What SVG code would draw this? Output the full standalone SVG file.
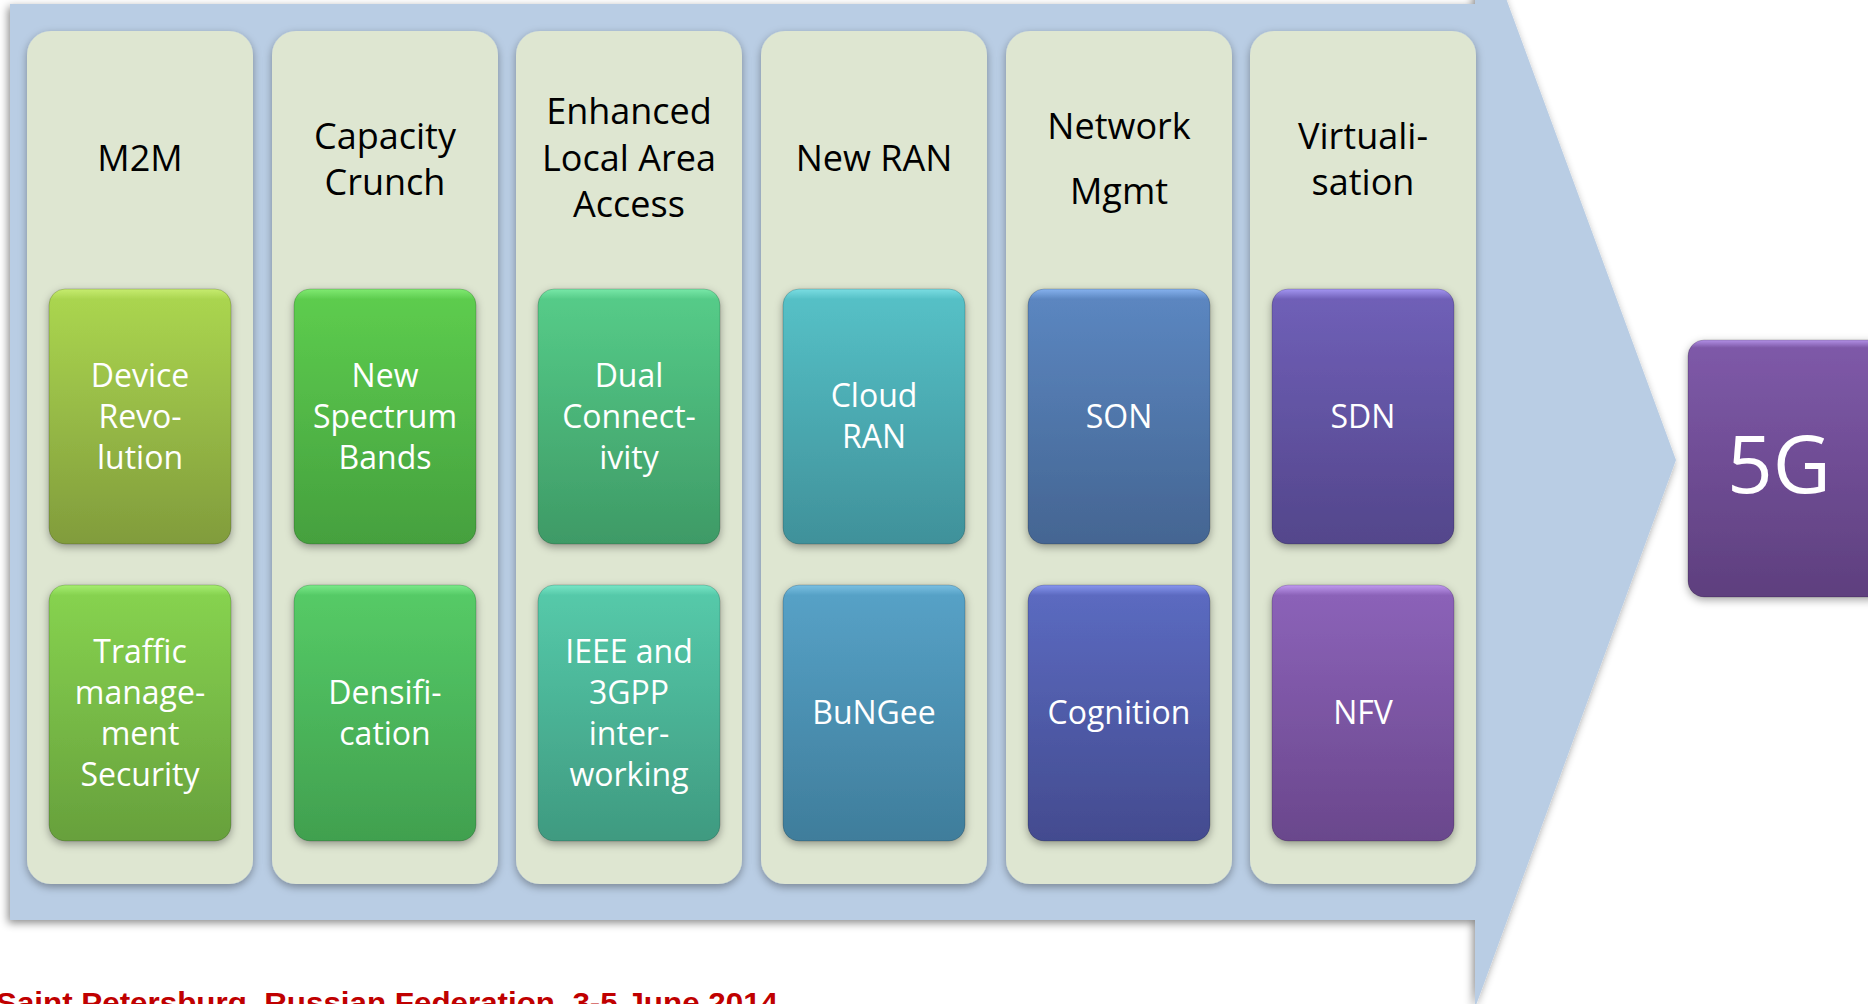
<svg xmlns="http://www.w3.org/2000/svg" width="1868" height="1004" viewBox="0 0 1868 1004">
<defs>
<filter id="sh" x="-10%" y="-10%" width="120%" height="120%">
<feDropShadow dx="0" dy="3" stdDeviation="4" flood-color="#000" flood-opacity="0.35"/>
</filter>
<filter id="ash" x="-5%" y="-5%" width="110%" height="110%">
<feDropShadow dx="-2" dy="3" stdDeviation="4" flood-color="#000" flood-opacity="0.45"/>
</filter>
<linearGradient id="g1a" x1="0" y1="0" x2="0" y2="1"><stop offset="0" stop-color="#c6ec70"/><stop offset="0.04" stop-color="#aad54f"/><stop offset="1" stop-color="#819c3c"/></linearGradient>
<linearGradient id="g1b" x1="0" y1="0" x2="0" y2="1"><stop offset="0" stop-color="#a6ee70"/><stop offset="0.04" stop-color="#86d24f"/><stop offset="1" stop-color="#67a03c"/></linearGradient>
<linearGradient id="g2a" x1="0" y1="0" x2="0" y2="1"><stop offset="0" stop-color="#80ea72"/><stop offset="0.04" stop-color="#5dcc4e"/><stop offset="1" stop-color="#45a03e"/></linearGradient>
<linearGradient id="g2b" x1="0" y1="0" x2="0" y2="1"><stop offset="0" stop-color="#7aea8a"/><stop offset="0.04" stop-color="#55ca66"/><stop offset="1" stop-color="#41a04f"/></linearGradient>
<linearGradient id="g3a" x1="0" y1="0" x2="0" y2="1"><stop offset="0" stop-color="#78e8a8"/><stop offset="0.04" stop-color="#55cb88"/><stop offset="1" stop-color="#3e9a66"/></linearGradient>
<linearGradient id="g3b" x1="0" y1="0" x2="0" y2="1"><stop offset="0" stop-color="#78e6c6"/><stop offset="0.04" stop-color="#55c9a9"/><stop offset="1" stop-color="#3f9a80"/></linearGradient>
<linearGradient id="g4a" x1="0" y1="0" x2="0" y2="1"><stop offset="0" stop-color="#7adde2"/><stop offset="0.04" stop-color="#55c0c6"/><stop offset="1" stop-color="#40919a"/></linearGradient>
<linearGradient id="g4b" x1="0" y1="0" x2="0" y2="1"><stop offset="0" stop-color="#7ac0e2"/><stop offset="0.04" stop-color="#56a1c6"/><stop offset="1" stop-color="#3f7d9b"/></linearGradient>
<linearGradient id="g5a" x1="0" y1="0" x2="0" y2="1"><stop offset="0" stop-color="#86b2ee"/><stop offset="0.04" stop-color="#5b86c0"/><stop offset="1" stop-color="#446592"/></linearGradient>
<linearGradient id="g5b" x1="0" y1="0" x2="0" y2="1"><stop offset="0" stop-color="#8896ee"/><stop offset="0.04" stop-color="#5b6ac0"/><stop offset="1" stop-color="#434b8f"/></linearGradient>
<linearGradient id="g6a" x1="0" y1="0" x2="0" y2="1"><stop offset="0" stop-color="#a496f2"/><stop offset="0.04" stop-color="#6f5fb7"/><stop offset="1" stop-color="#53468b"/></linearGradient>
<linearGradient id="g6b" x1="0" y1="0" x2="0" y2="1"><stop offset="0" stop-color="#c09af0"/><stop offset="0.04" stop-color="#8b62b8"/><stop offset="1" stop-color="#6a478c"/></linearGradient>
<linearGradient id="g5g" x1="0" y1="0" x2="0" y2="1"><stop offset="0" stop-color="#b290e6"/><stop offset="0.03" stop-color="#7e59a8"/><stop offset="1" stop-color="#5e3f7e"/></linearGradient>
</defs>
<style>
.col{fill:#dee6d1;filter:url(#sh)}
.box{filter:url(#sh);stroke:#000;stroke-opacity:0.18;stroke-width:1}
.hd{font-family:"Open Sans","Noto Sans",sans-serif;font-size:36px;fill:#000;text-anchor:middle}
.bt{font-family:"Open Sans","Noto Sans",sans-serif;font-size:32px;fill:#fff;text-anchor:middle}
.big{font-family:"Open Sans","Noto Sans",sans-serif;font-size:80px;fill:#fff;text-anchor:middle}
.foot{font-family:"Liberation Sans",Arial,sans-serif;font-weight:bold;font-size:30px;fill:#c00000}
</style>
<g id="arrow">
<path d="M10,4 H1475 V-86 L1676,460 L1475,1008 V920 H10 Z" fill="#b9cde4" filter="url(#ash)"/>
</g>
<g id="connectors"></g>
<g id="col-m2m">
<rect class="col" x="27" y="31" width="226" height="853" rx="24"/>
<text class="hd" x="140" y="171">M2M</text>
</g>
<g id="col-capacity">
<rect class="col" x="272" y="31" width="226" height="853" rx="24"/>
<text class="hd" x="385" y="149">Capacity</text>
<text class="hd" x="385" y="195">Crunch</text>
</g>
<g id="col-enhanced">
<rect class="col" x="516" y="31" width="226" height="853" rx="24"/>
<text class="hd" x="629" y="124">Enhanced</text>
<text class="hd" x="629" y="171">Local Area</text>
<text class="hd" x="629" y="217">Access</text>
</g>
<g id="col-newran">
<rect class="col" x="761" y="31" width="226" height="853" rx="24"/>
<text class="hd" x="874" y="171">New RAN</text>
</g>
<g id="col-netmgmt">
<rect class="col" x="1006" y="31" width="226" height="853" rx="24"/>
<text class="hd" x="1119" y="139">Network</text>
<text class="hd" x="1119" y="204">Mgmt</text>
</g>
<g id="col-virt">
<rect class="col" x="1250" y="31" width="226" height="853" rx="24"/>
<text class="hd" x="1363" y="149">Virtuali-</text>
<text class="hd" x="1363" y="195">sation</text>
</g>
<g id="box-device">
<rect class="box" x="49" y="289" width="182" height="255" rx="16" fill="url(#g1a)"/>
<text class="bt" x="140" y="387">Device</text>
<text class="bt" x="140" y="428">Revo-</text>
<text class="bt" x="140" y="469">lution</text>
</g>
<g id="box-traffic">
<rect class="box" x="49" y="585" width="182" height="256" rx="16" fill="url(#g1b)"/>
<text class="bt" x="140" y="663">Traffic</text>
<text class="bt" x="140" y="704">manage-</text>
<text class="bt" x="140" y="745">ment</text>
<text class="bt" x="140" y="786">Security</text>
</g>
<g id="box-spectrum">
<rect class="box" x="294" y="289" width="182" height="255" rx="16" fill="url(#g2a)"/>
<text class="bt" x="385" y="387">New</text>
<text class="bt" x="385" y="428">Spectrum</text>
<text class="bt" x="385" y="469">Bands</text>
</g>
<g id="box-densification">
<rect class="box" x="294" y="585" width="182" height="256" rx="16" fill="url(#g2b)"/>
<text class="bt" x="385" y="704">Densifi-</text>
<text class="bt" x="385" y="745">cation</text>
</g>
<g id="box-dual">
<rect class="box" x="538" y="289" width="182" height="255" rx="16" fill="url(#g3a)"/>
<text class="bt" x="629" y="387">Dual</text>
<text class="bt" x="629" y="428">Connect-</text>
<text class="bt" x="629" y="469">ivity</text>
</g>
<g id="box-ieee">
<rect class="box" x="538" y="585" width="182" height="256" rx="16" fill="url(#g3b)"/>
<text class="bt" x="629" y="663">IEEE and</text>
<text class="bt" x="629" y="704">3GPP</text>
<text class="bt" x="629" y="745">inter-</text>
<text class="bt" x="629" y="786">working</text>
</g>
<g id="box-cloudran">
<rect class="box" x="783" y="289" width="182" height="255" rx="16" fill="url(#g4a)"/>
<text class="bt" x="874" y="407">Cloud</text>
<text class="bt" x="874" y="448">RAN</text>
</g>
<g id="box-bungee">
<rect class="box" x="783" y="585" width="182" height="256" rx="16" fill="url(#g4b)"/>
<text class="bt" x="874" y="724">BuNGee</text>
</g>
<g id="box-son">
<rect class="box" x="1028" y="289" width="182" height="255" rx="16" fill="url(#g5a)"/>
<text class="bt" x="1119" y="428">SON</text>
</g>
<g id="box-cognition">
<rect class="box" x="1028" y="585" width="182" height="256" rx="16" fill="url(#g5b)"/>
<text class="bt" x="1119" y="724">Cognition</text>
</g>
<g id="box-sdn">
<rect class="box" x="1272" y="289" width="182" height="255" rx="16" fill="url(#g6a)"/>
<text class="bt" x="1363" y="428">SDN</text>
</g>
<g id="box-nfv">
<rect class="box" x="1272" y="585" width="182" height="256" rx="16" fill="url(#g6b)"/>
<text class="bt" x="1363" y="724">NFV</text>
</g>
<g id="box-5g">
<rect class="box" x="1688" y="340" width="200" height="257" rx="16" fill="url(#g5g)"/>
<text class="big" x="1779" y="493">5G</text>
</g>
<g id="footer">
<text class="foot" x="-4" y="1013" textLength="782" lengthAdjust="spacingAndGlyphs">Saint Petersburg, Russian Federation, 3-5 June 2014</text>
</g>
</svg>
